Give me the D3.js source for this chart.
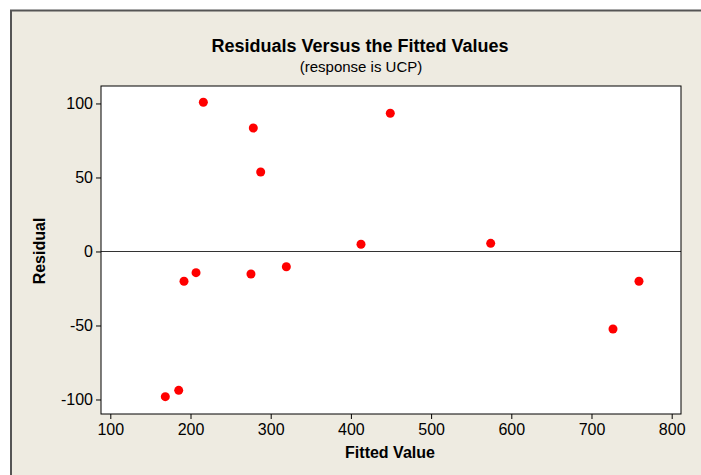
<!DOCTYPE html>
<html>
<head>
<meta charset="utf-8">
<script src="https://cdn.jsdelivr.net/npm/d3@7"></script>
<style>
  body { margin: 0; background: #fff; }
  text { font-family: "Liberation Sans", Arial, sans-serif; }
</style>
</head>
<body>
<div id="chart"></div>
<script>
// fitted values and residuals
var fitted = [168.6, 185.3, 191.9, 206.9, 275.4, 216.0, 278.3, 287.5, 319.5, 412.6, 449.1, 574.3, 726.8, 759.2];
var residual = [-98.1, -93.8, -20.1, -14.3, -15.2, 100.8, 83.4, 53.7, -10.3, 4.9, 93.4, 5.5, -52.4, -20.1];

var xTicks = [100, 200, 300, 400, 500, 600, 700, 800];
var yTicks = [-100, -50, 0, 50, 100];

var W = 701, H = 475;
var margin = {top: 86, right: 20, bottom: 61, left: 101},
  width = 681 - margin.left,
  height = 414 - margin.top;

var svg = d3.select("#chart")
  .append("svg")
  .attr("width", W)
  .attr("height", H);

// beige frame
svg.append("rect")
  .attr("x", 11).attr("y", 10.5)
  .attr("width", W).attr("height", H)
  .attr("fill", "#eeebe1")
  .attr("stroke", "#555")
  .attr("stroke-width", 2);

svg.append("text")
  .attr("x", 360).attr("y", 52)
  .attr("text-anchor", "middle")
  .style("font-size", "18px").style("font-weight", "bold")
  .text("Residuals Versus the Fitted Values");

svg.append("text")
  .attr("x", 361).attr("y", 72)
  .attr("text-anchor", "middle")
  .style("font-size", "15px")
  .text("(response is UCP)");

var g = svg.append("g")
  .attr("transform", "translate(" + margin.left + "," + margin.top + ")");

var x = d3.scaleLinear().domain([88.4, 811.6]).range([0, width]);
var y = d3.scaleLinear().domain([-109.8, 111.8]).range([height, 0]);

g.append("rect")
  .attr("width", width).attr("height", height)
  .attr("fill", "#fff");

// reference line at zero
g.append("line")
  .attr("x1", 0).attr("x2", width)
  .attr("y1", y(0)).attr("y2", y(0))
  .attr("stroke", "#333").attr("stroke-width", 1.2);

var fmt = function(d) { return String(d); };

var xAxis = g.append("g")
  .attr("transform", "translate(0," + height + ")")
  .call(d3.axisBottom(x).tickValues(xTicks).tickFormat(fmt).tickSize(5).tickPadding(5));

var yAxis = g.append("g")
  .call(d3.axisLeft(y).tickValues(yTicks).tickFormat(fmt).tickSize(5).tickPadding(3));

[xAxis, yAxis].forEach(function(a) {
  a.attr("font-size", null).attr("font-family", null);
  a.select(".domain").remove();
  a.selectAll("line").attr("stroke", "#000");
  a.selectAll("text").style("font-size", "16px").attr("fill", "#000");
});

g.append("rect")
  .attr("width", width).attr("height", height)
  .attr("fill", "none")
  .attr("stroke", "#000").attr("stroke-width", 1);

g.selectAll("circle")
  .data(fitted)
  .enter()
  .append("circle")
  .attr("cx", function(d) { return x(d); })
  .attr("cy", function(d, i) { return y(residual[i]); })
  .attr("r", 4.5)
  .attr("fill", "#ff0000");

svg.append("text")
  .attr("x", 390).attr("y", 458)
  .attr("text-anchor", "middle")
  .style("font-size", "16px").style("font-weight", "bold")
  .text("Fitted Value");

svg.append("text")
  .attr("transform", "translate(45,251) rotate(-90)")
  .attr("text-anchor", "middle")
  .style("font-size", "16px").style("font-weight", "bold")
  .text("Residual");
</script>
</body>
</html>
